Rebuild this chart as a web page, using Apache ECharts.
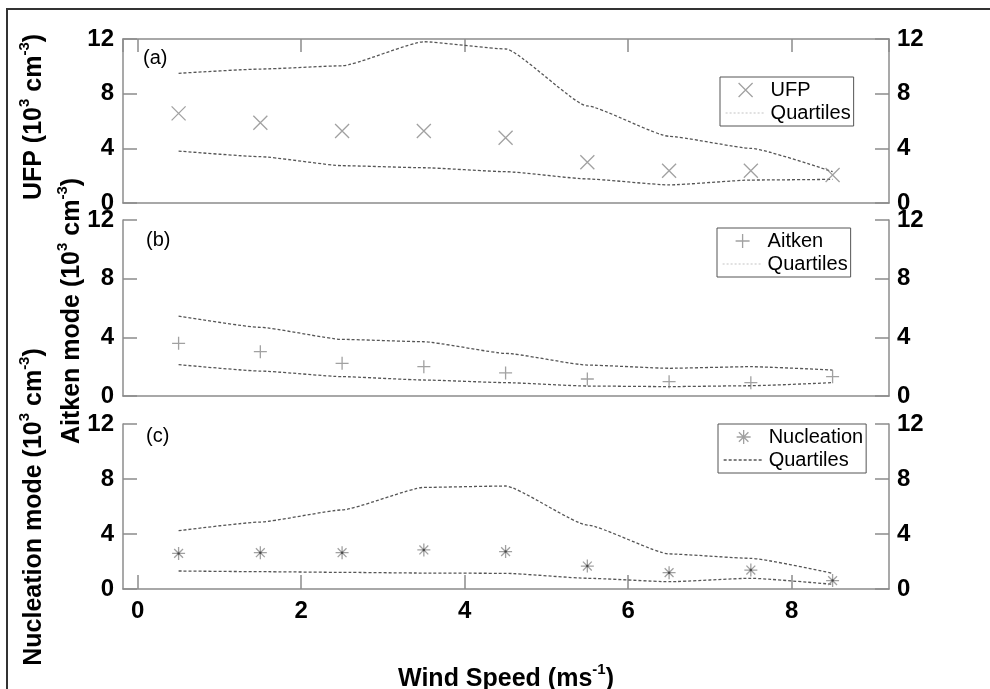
<!DOCTYPE html>
<html>
<head>
<meta charset="utf-8">
<script src="https://cdn.jsdelivr.net/npm/echarts@6/dist/echarts.min.js"></script>
<style>
html,body{margin:0;padding:0;background:#fff;}
#chart{width:990px;height:689px;}
</style>
</head>
<body>
<div id="chart"></div>
<script>
// ---- data ----
const windSpeed = [0.5, 1.5, 2.5, 3.5, 4.5, 5.5, 6.5, 7.5, 8.5];

const ufpMedian = [6.56, 5.87, 5.27, 5.27, 4.78, 2.98, 2.36, 2.36, 2.05];
const ufpUpper  = [9.49, 9.80, 10.04, 11.80, 11.27, 7.10, 4.88, 4.00, 2.29];
const ufpLower  = [3.80, 3.39, 2.73, 2.58, 2.29, 1.76, 1.32, 1.68, 1.73];

const aitkenMedian = [3.59, 3.02, 2.23, 2.00, 1.57, 1.16, 0.98, 0.91, 1.32];
const aitkenUpper  = [5.45, 4.68, 3.86, 3.70, 2.91, 2.11, 1.89, 2.00, 1.77];
const aitkenLower  = [2.14, 1.70, 1.32, 1.09, 0.91, 0.68, 0.64, 0.70, 0.91];

const nucMedian = [2.59, 2.64, 2.64, 2.84, 2.72, 1.67, 1.19, 1.38, 0.61];
const nucUpper  = [4.24, 4.87, 5.75, 7.39, 7.49, 4.65, 2.55, 2.23, 1.14];
const nucLower  = [1.31, 1.26, 1.21, 1.16, 1.14, 0.78, 0.53, 0.78, 0.34];

const yTicks = [0, 4, 8, 12];
const panelLabels = ['(a)', '(b)', '(c)'];
const seriesNames = ['UFP', 'Aitken', 'Nucleation'];
const quartileName = 'Quartiles';

// ---- styling ----
const FONT = "'Liberation Sans', Arial, sans-serif";
const AXIS_COLOR = '#8c8c8c';
const MARK_COLOR = '#8a8a8a';
const Q_COLOR = '#555555';

const pairs = (xs, ys) => xs.map((x, i) => [x, ys[i]]);

const grids = [
  {left: 123, right: 101, top: 39, height: 164},
  {left: 123, right: 101, top: 220, height: 176},
  {left: 123, right: 101, top: 424, height: 165}
];

const xBase = {
  type: 'value', min: -0.18, max: 9.19, splitNumber: 5,
  splitLine: {show: false},
  axisLine: {show: true, onZero: false, lineStyle: {color: AXIS_COLOR, width: 1.5}},
  axisTick: {show: false},
  axisLabel: {show: false}
};
const xAxes = [
  Object.assign({}, xBase, {gridIndex: 0, position: 'bottom'}),
  Object.assign({}, xBase, {gridIndex: 0, position: 'top',
    axisTick: {show: true, inside: true, length: 13, lineStyle: {color: AXIS_COLOR, width: 1.5}}}),
  Object.assign({}, xBase, {gridIndex: 1, position: 'bottom'}),
  Object.assign({}, xBase, {gridIndex: 2, position: 'bottom',
    axisTick: {show: true, inside: true, length: 14, lineStyle: {color: AXIS_COLOR, width: 1.5}},
    axisLabel: {show: true, showMinLabel: false, showMaxLabel: false, margin: 10,
      color: '#000', fontSize: 24, fontWeight: 'bold', fontFamily: FONT}})
];

const yAxes = [];
[0, 1, 2].forEach(g => {
  ['left', 'right'].forEach(pos => {
    yAxes.push({
      type: 'value', gridIndex: g, position: pos, min: yTicks[0], max: yTicks[yTicks.length - 1],
      interval: yTicks[1] - yTicks[0],
      splitLine: {show: false},
      axisLine: {show: true, onZero: false, lineStyle: {color: AXIS_COLOR, width: 1.5}},
      axisTick: {show: true, inside: true, length: 14, lineStyle: {color: AXIS_COLOR, width: 1.5}},
      axisLabel: {margin: pos === 'left' ? 9 : 8, color: '#000', fontSize: 24, fontWeight: 'bold', fontFamily: FONT}
    });
  });
});

const symX = 'path://M0,0L10,10M10,0L0,10';
const symPlus = 'path://M5,0L5,10M0,5L10,5';
const symStar = 'path://M5,0L5,10M0,5L10,5M1.6,1.6L8.4,8.4M8.4,1.6L1.6,8.4';

const markStyle = {color: 'transparent', borderColor: MARK_COLOR, borderWidth: 1.3};
const qLine = {color: Q_COLOR, width: 1.3, type: [3, 2]};

const panels = [
  {med: ufpMedian, up: ufpUpper, lo: ufpLower, sym: symX, size: 14, xi: 0},
  {med: aitkenMedian, up: aitkenUpper, lo: aitkenLower, sym: symPlus, size: 13, xi: 2},
  {med: nucMedian, up: nucUpper, lo: nucLower, sym: symStar, size: 13, xi: 3}
];

const series = [];
panels.forEach((p, g) => {
  series.push({
    name: seriesNames[g], type: 'scatter', xAxisIndex: p.xi, yAxisIndex: g * 2,
    symbol: p.sym, symbolSize: p.size, itemStyle: markStyle,
    data: pairs(windSpeed, p.med), z: 3
  });
  [p.up, p.lo].forEach(arr => {
    series.push({
      name: quartileName, type: 'line', xAxisIndex: p.xi, yAxisIndex: g * 2,
      symbol: 'none', smooth: 0.15, smoothMonotone: 'x',
      itemStyle: {color: 'transparent', opacity: 0},
      lineStyle: qLine, data: pairs(windSpeed, arr), z: 2
    });
  });
});
// nucleation asterisk centre dots (same data, drawn as small dots)
series.push({
  name: 'nucDot', type: 'scatter', xAxisIndex: 3, yAxisIndex: 4,
  symbol: 'circle', symbolSize: 2.5, itemStyle: {color: '#333'},
  data: pairs(windSpeed, nucMedian), z: 4, silent: true
});

const legendBoxes = [
  {left: 720, top: 77},
  {left: 717, top: 228},
  {left: 718, top: 424}
];
const legends = legendBoxes.map((b, g) => ({
  left: b.left, top: b.top, orient: 'vertical',
  padding: [3, 3, 3, 5], itemWidth: 40, itemHeight: 14, itemGap: 3,
  borderColor: '#555', borderWidth: 1, backgroundColor: '#fff',
  textStyle: {fontSize: 20, lineHeight: 20, color: '#000', fontFamily: FONT},
  selectedMode: false,
  data: [
    {name: seriesNames[g], itemStyle: {color: 'transparent', borderColor: MARK_COLOR, borderWidth: 1.3}},
    {name: quartileName, itemStyle: {color: 'transparent', borderWidth: 0, opacity: 0},
      lineStyle: g < 2 ? {color: '#c4c4c4', width: 1.2, type: [2, 2]} : {color: Q_COLOR, width: 1.3, type: [3, 2]}}
  ]
}));

const mStyle = {fontSize: 25, fontWeight: 'bold', fontFamily: FONT, lineHeight: 30, verticalAlign: 'bottom', fill: '#000'};
const sStyle = {fontSize: 15, fontWeight: 'bold', fontFamily: FONT, lineHeight: 20, verticalAlign: 'top', fill: '#000'};
const richT = {m: mStyle, s: sStyle};

function vTitle(text, x, y) {
  return {type: 'text', x: x, y: y, rotation: Math.PI / 2,
    style: {text: text, rich: richT, align: 'center', verticalAlign: 'middle'}};
}

const graphics = [
  {type: 'rect', shape: {x: 7, y: 9, width: 1000, height: 700}, style: {fill: 'none', stroke: '#333', lineWidth: 2}, z: -1},
  vTitle('{m|UFP (10}{s|3}{m| cm}{s|-3}{m|)}', 32, 117),
  vTitle('{m|Aitken mode (10}{s|3}{m| cm}{s|-3}{m|)}', 70, 311),
  vTitle('{m|Nucleation mode (10}{s|3}{m| cm}{s|-3}{m|)}', 32, 507),
  {type: 'text', x: 506, y: 677,
    style: {text: '{m|Wind Speed (ms}{s|-1}{m|)}', rich: richT, align: 'center', verticalAlign: 'middle'}},
  {type: 'text', x: 143, y: 58, style: {text: panelLabels[0], fontSize: 20, fontFamily: FONT, fill: '#000', verticalAlign: 'middle'}},
  {type: 'text', x: 146, y: 240, style: {text: panelLabels[1], fontSize: 20, fontFamily: FONT, fill: '#000', verticalAlign: 'middle'}},
  {type: 'text', x: 146, y: 436, style: {text: panelLabels[2], fontSize: 20, fontFamily: FONT, fill: '#000', verticalAlign: 'middle'}}
];

const chart = echarts.init(document.getElementById('chart'), null, {renderer: 'canvas'});
chart.setOption({
  animation: false,
  backgroundColor: '#fff',
  grid: grids,
  xAxis: xAxes,
  yAxis: yAxes,
  legend: legends,
  series: series,
  graphic: graphics
});
</script>
</body>
</html>
